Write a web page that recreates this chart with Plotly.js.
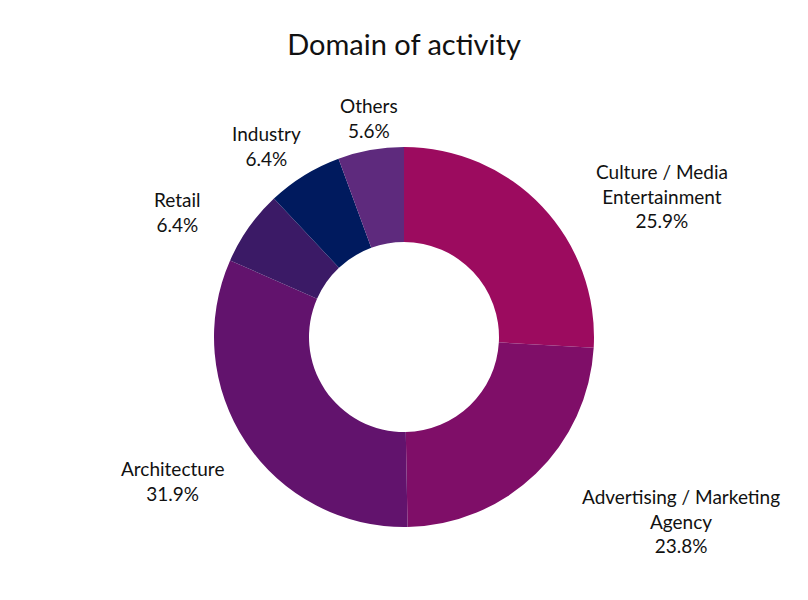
<!DOCTYPE html>
<html><head><meta charset="utf-8">
<script src="https://cdn.plot.ly/plotly-3.0.1.min.js"></script>
<style>html,body{margin:0;padding:0;background:#fff}</style>
</head><body><div id="chart" style="width:808px;height:600px"></div>
<script>
const labels = ["Culture / Media<br>Entertainment", "Advertising / Marketing<br>Agency", "Architecture", "Retail", "Industry", "Others"];
const values = [25.9, 23.8, 31.9, 6.4, 6.4, 5.6];
const colors = ["#9C0B5F", "#7F0E68", "#62136D", "#3B1A66", "#001A5E", "#5E2A7D"];

// layout settings (pixels)
const W = 808, H = 600;
const CX = 404, CY = 337, RADIUS = 190, LABEL_R = 230;
const labelNudge = [[23, 17], [16, 18], [13, 17], [-13, 8], [20, 5], [5, 7]];

const total = values.reduce((a, b) => a + b, 0);
let cum = 0;
const annotations = values.map((v, i) => {
  const mid = (cum + v / 2) / total * 2 * Math.PI;
  cum += v;
  const s = Math.sin(mid), c = Math.cos(mid);
  const px = CX + LABEL_R * s + labelNudge[i][0];
  const py = CY - LABEL_R * c + labelNudge[i][1];
  const xa = s > 0.3 ? "left" : (s < -0.3 ? "right" : "center");
  return {
    xref: "paper", yref: "paper",
    x: px / W, y: 1 - py / H,
    xanchor: xa, yanchor: "middle",
    text: labels[i] + "<br>" + (v / total * 100).toFixed(1) + "%",
    showarrow: false, align: "center",
    font: {family: "Lato, sans-serif", size: 19, color: "#111"}
  };
});

Plotly.newPlot("chart", [{
  type: "pie",
  labels: labels,
  values: values,
  hole: 0.5,
  sort: false,
  direction: "clockwise",
  rotation: 0,
  textinfo: "none",
  marker: {colors: colors, line: {width: 0}},
  domain: {x: [(CX - RADIUS) / W, (CX + RADIUS) / W], y: [1 - (CY + RADIUS) / H, 1 - (CY - RADIUS) / H]},
  hoverinfo: "label+percent",
  showlegend: false
}], {
  width: W, height: H,
  margin: {t: 0, b: 0, l: 0, r: 0},
  paper_bgcolor: "#fff",
  title: {text: "Domain of activity", x: 0.5, xanchor: "center", y: 0.925, yanchor: "middle",
          font: {family: "Lato, sans-serif", size: 29, color: "#111"}},
  annotations: annotations,
  showlegend: false
}, {displayModeBar: false});
</script></body></html>
